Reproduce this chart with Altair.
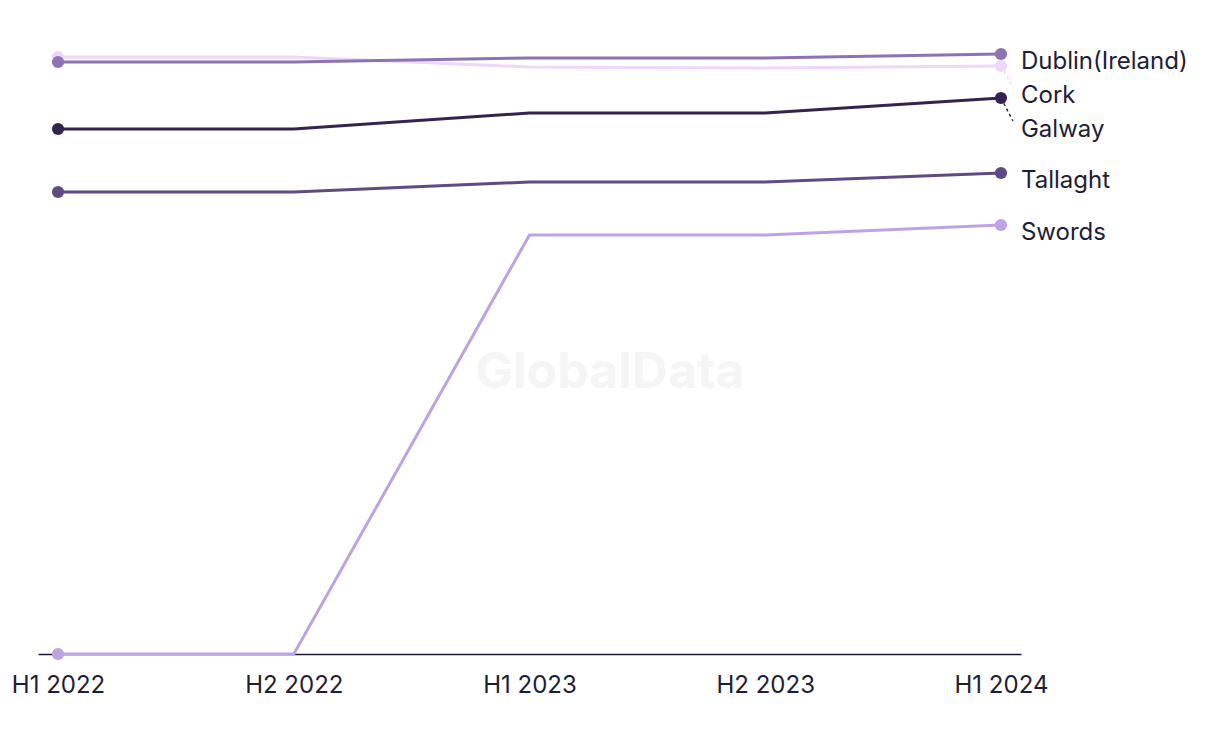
import altair as alt
import pandas as pd

periods = ["H1 2022", "H2 2022", "H1 2023", "H2 2023", "H1 2024"]
cities = ["Cork", "Dublin(Ireland)", "Galway", "Tallaght", "Swords"]
colors = ["#efd6fb", "#8c74b2", "#35234f", "#5f4a84", "#bea3e3"]

cork = [597, 597, 587, 586, 588]
dublin = [592, 592, 596, 596, 600]
galway = [525, 525, 541, 541, 556]
tallaght = [462, 462, 472, 472, 481]
swords = [0, 0, 419, 419, 429]

series = [cork, dublin, galway, tallaght, swords]

rows = []
for ci, (city, vals) in enumerate(zip(cities, series)):
    for pi, (p, v) in enumerate(zip(periods, vals)):
        rows.append({"city": city, "period": p, "value": v, "order": ci,
                     "endpoint": pi in (0, len(periods) - 1)})
df = pd.DataFrame(rows)

# label placement: avoid overlap, going from top to bottom
ends = sorted([(vals[-1], city) for city, vals in zip(cities, series)], reverse=True)
GAP = 34
lab_rows = []
prev = None
for v, city in ends:
    lv = v - 6
    if prev is not None:
        lv = min(lv, prev - GAP)
    prev = lv
    lab_rows.append({"city": city, "period": periods[-1], "value": v, "label_val": lv,
                     "moved": (v - 6) - lv > 3})
lab = pd.DataFrame(lab_rows)

color_scale = alt.Scale(domain=cities, range=colors)
x_enc = alt.X("period:N", sort=periods,
              scale=alt.Scale(type="point", padding=0.085),
              axis=alt.Axis(title=None, labelAngle=0, ticks=False, grid=False,
                            domainColor="#1b1a33", domainWidth=1.5,
                            labelFont="Inter", labelFontSize=24, labelColor="#1e1d38",
                            labelPadding=19))
y_scale = alt.Scale(domain=[0, 640], nice=False, zero=True)

lines = alt.Chart(df).mark_line(strokeWidth=3, interpolate="linear").encode(
    x=x_enc,
    y=alt.Y("value:Q", scale=y_scale, axis=None),
    color=alt.Color("city:N", scale=color_scale, legend=None),
    detail="city:N",
    order=alt.Order("order:Q"),
)

points = alt.Chart(df).transform_filter("datum.endpoint").mark_circle(size=150, opacity=1).encode(
    x=alt.X("period:N", sort=periods),
    y=alt.Y("value:Q", scale=y_scale),
    color=alt.Color("city:N", scale=color_scale, legend=None),
    order=alt.Order("order:Q"),
)

leaders = alt.Chart(lab).transform_filter("datum.moved").mark_rule(
    strokeWidth=1.5, strokeDash=[3, 3], x2Offset=12, y2Offset=-7
).encode(
    x=alt.X("period:N", sort=periods),
    x2=alt.X2("period:N"),
    y=alt.Y("value:Q", scale=y_scale),
    y2=alt.Y2("label_val:Q"),
    color=alt.Color("city:N", scale=color_scale, legend=None),
)

labels = alt.Chart(lab).mark_text(
    align="left", baseline="middle", dx=20, dy=2, font="Inter", fontSize=24, color="#1e1d38"
).encode(
    x=alt.X("period:N", sort=periods),
    y=alt.Y("label_val:Q", scale=y_scale),
    text="city:N",
)

watermark = alt.Chart(pd.DataFrame({"t": ["GlobalData"]})).mark_text(
    font="Inter", fontSize=50, fontWeight="bold", color="#f5f5f5", align="center", baseline="middle"
).encode(x=alt.value(572), y=alt.value(359), text="t:N")

chart = alt.layer(watermark, lines, leaders, points, labels).properties(
    width=983, height=640,
    autosize=alt.AutoSizeParams(type="none"),
    padding={"left": 38, "top": 14, "right": 199, "bottom": 90},
).configure(
    background="white",
    view=alt.ViewConfig(stroke="transparent", strokeWidth=0),
)

chart.save("out.html", embed_options={"renderer": "svg", "actions": False})
